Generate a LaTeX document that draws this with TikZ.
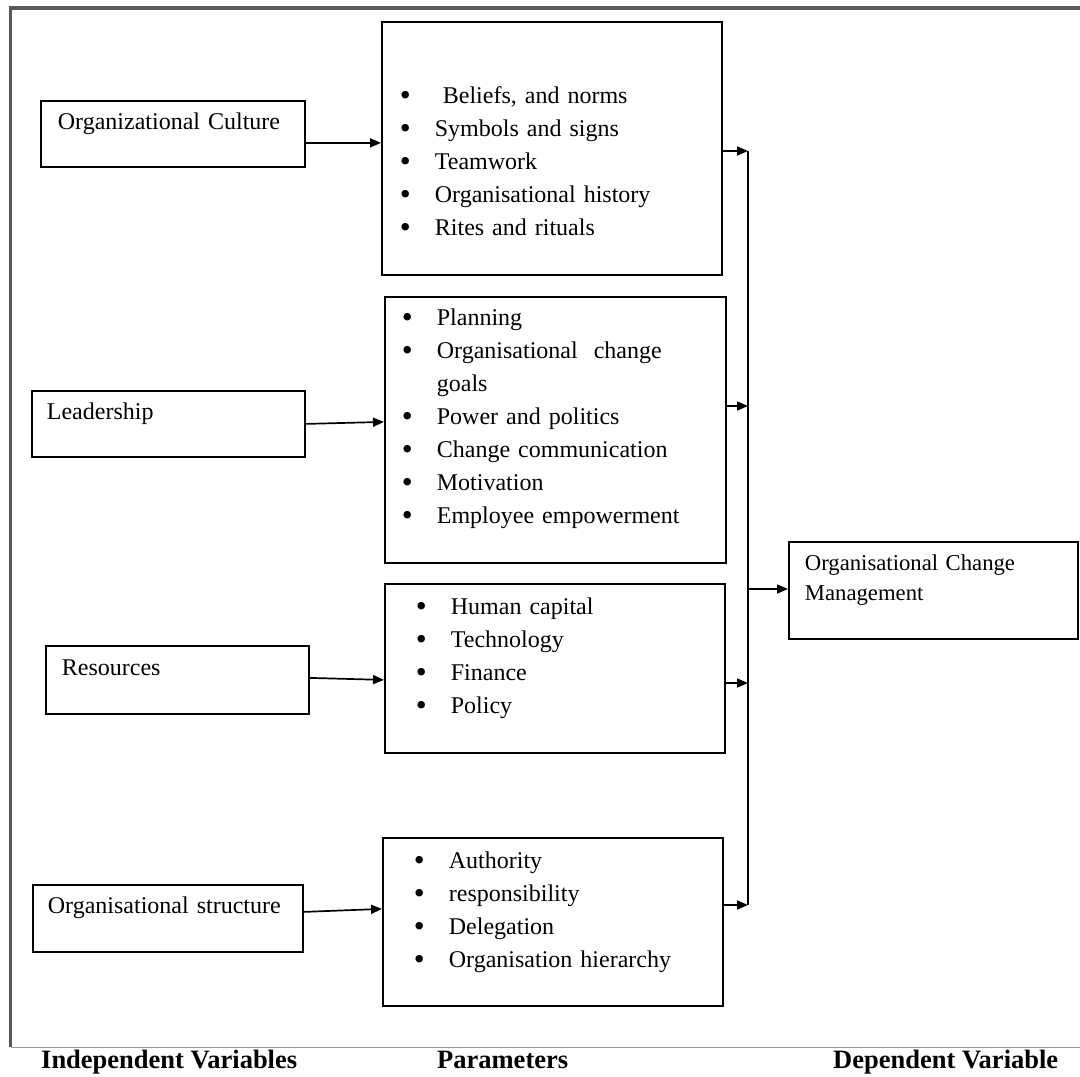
\documentclass[tikz,border=0pt]{standalone}
\usepackage{fontspec}
\setmainfont{Liberation Serif}
\usetikzlibrary{arrows.meta}
\newcommand{\itm}{\makebox[35pt][l]{\raisebox{-1.5pt}{\scalebox{1.3}{\textbullet}}}}

\begin{document}
\begin{tikzpicture}[
  x=1pt, y=-1pt,
  box/.style={draw, line width=1.8pt, anchor=north west, align=left, inner ysep=0pt, font=\fontsize{24}{33}\selectfont},
  arr/.style={-{Triangle[length=11pt, width=9pt]}, line width=1.7pt},
  lbl/.style={anchor=base west, inner sep=0pt, font=\fontsize{26.5}{30}\selectfont\bfseries}
]
\useasboundingbox (0,0) rectangle (1080,1077);
\draw[black!65, line width=4pt] (9,8) -- (1080,8);
\draw[black!65, line width=3pt] (10.5,6) -- (10.5,1047);
\draw[black!40, line width=1pt] (10.5,1047) -- (1080,1047);

\node[box, inner xsep=17pt, text width=230pt, text height=29pt, text depth=37pt] (culture) at (40,100) {Organizational Culture};
\node[box, inner xsep=15pt, text width=243pt, text height=29pt, text depth=37pt] (lead) at (31,390) {Leadership};
\node[box, inner xsep=16pt, text width=231pt, text height=30pt, text depth=38pt] (res) at (45,645) {Resources};
\node[box, inner xsep=15pt, text width=240pt, text height=29pt, text depth=38pt] (struct) at (32,884) {Organisational structure};

\node[box, inner xsep=18pt, text width=304pt, text height=82pt, text depth=171pt] (b1) at (381,21)
  {\itm\ Beliefs, and norms\\ \itm Symbols and signs\\ \itm Teamwork\\ \itm Organisational history\\ \itm Rites and rituals};
\node[box, inner xsep=17pt, text width=307pt, text height=29pt, text depth=237pt] (b2) at (384,296)
  {\itm Planning\\ \itm Organisational\ \ change\\ \hspace*{35pt}goals\\ \itm Power and politics\\ \itm Change communication\\ \itm Motivation\\ \itm Employee empowerment};
\node[box, inner xsep=31pt, text width=278pt, text height=31pt, text depth=138pt] (b3) at (384,583)
  {\itm Human capital\\ \itm Technology\\ \itm Finance\\ \itm Policy};
\node[box, inner xsep=31pt, text width=278pt, text height=31pt, text depth=137pt] (b4) at (382,837)
  {\itm Authority\\ \itm responsibility\\ \itm Delegation\\ \itm Organisation hierarchy};

\node[box, inner xsep=16pt, text width=257pt, text height=29pt, text depth=68pt, font=\fontsize{22.7}{30}\selectfont] (ocm) at (788,541) {Organisational Change\\Management};

\coordinate (t1) at (748,151);
\coordinate (t2) at (748,406);
\coordinate (t3) at (748,683);
\coordinate (t4) at (748,905);
\coordinate (tm) at (748,589);

\draw[arr] ([yshift=-9pt]culture.east) -- ([yshift=5.5pt]b1.west);
\draw[arr] (lead.east) -- ([yshift=8pt]b2.west);
\draw[arr] ([yshift=2pt]res.east) -- ([yshift=-11.5pt]b3.west);
\draw[arr] ([yshift=6.5pt]struct.east) -- ([yshift=13pt]b4.west);

\draw[line width=1.7pt] (t1) -- (t4);
\draw[arr] (b1.east |- t1) -- (t1);
\draw[arr] (b2.east |- t2) -- (t2);
\draw[arr] (b3.east |- t3) -- (t3);
\draw[arr] (b4.east |- t4) -- (t4);
\draw[arr] (tm) -- (ocm.west |- tm);

\node[lbl] (indep) at (41,1068) {Independent Variables};
\node[lbl] (param) at (437,1068) {Parameters};
\node[lbl] (dep) at (833,1068) {Dependent Variable};
\end{tikzpicture}
\end{document}
